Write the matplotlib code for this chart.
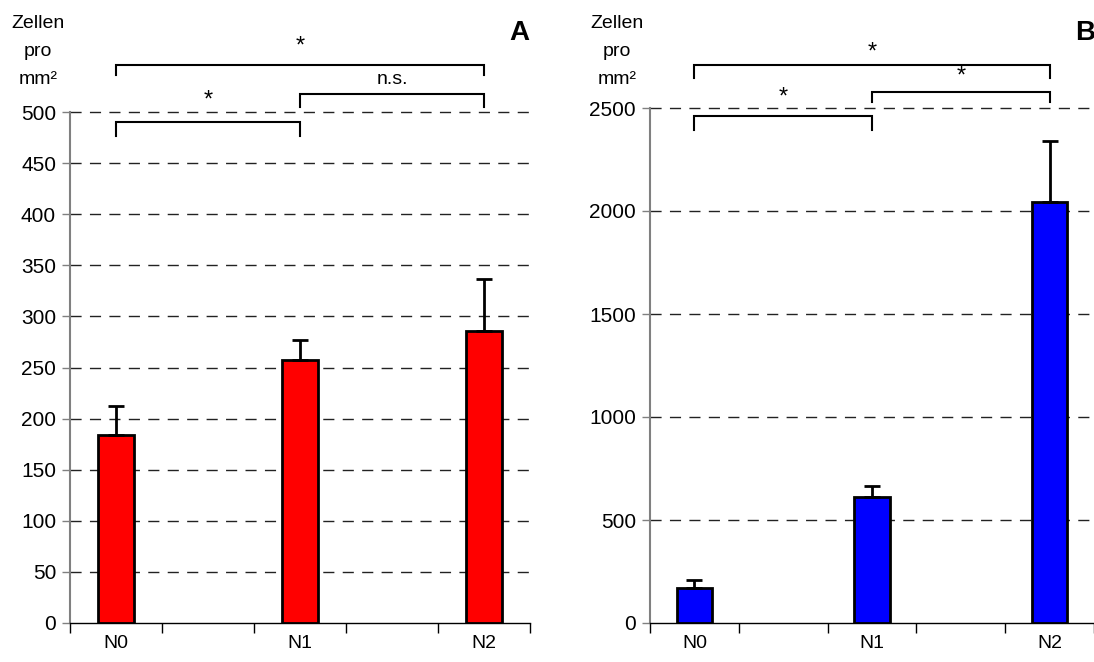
import matplotlib.pyplot as plt
import numpy as np

plt.rcParams['font.family'] = ['Liberation Sans', 'DejaVu Sans']

groups = ["N0", "N1", "N2"]
values_a = [184, 257, 286]
errors_a = [28, 20, 51]
values_b = [168, 613, 2045]
errors_b = [40, 52, 293]

W, H = 1094, 662
fig = plt.figure(figsize=(W / 100, H / 100), dpi=100)


def px(x0, y0, x1, y1):
    # pixel box -> figure fraction rect
    return [x0 / W, 1 - y1 / H, (x1 - x0) / W, (y1 - y0) / H]


def bracket(ax, x0, x1, y, drop, txt, ty, fs):
    ax.plot([x0, x0, x1, x1], [y - drop, y, y, y - drop], color='black',
            lw=1.5, clip_on=False, solid_joinstyle='miter')
    ax.text((x0 + x1) / 2, ty, txt, ha='center', va='center', fontsize=fs,
            clip_on=False)


def panel(ax, values, errors, color, ymax, step):
    xpos = np.array([0.5, 2.5, 4.5])
    ax.bar(xpos, values, 0.4, color=color, edgecolor='black', linewidth=2,
           zorder=3)
    ax.errorbar(xpos, values, yerr=[[0] * 3, errors], fmt='none',
                ecolor='black', elinewidth=2, capsize=5.5, capthick=2,
                zorder=4)
    ax.set_xlim(0, 5)
    ax.set_ylim(0, ymax)
    ax.set_yticks(np.arange(0, ymax + 1, step))
    ax.tick_params(axis='y', labelsize=15, length=6, color='#808080',
                   width=1, pad=4)
    ax.set_xticks(np.arange(0, 6))
    ax.set_xticklabels([])
    ax.tick_params(axis='x', which='major', length=7, color='black', width=1)
    ax.set_xticks(xpos, minor=True)
    ax.set_xticklabels(groups, minor=True)
    ax.tick_params(axis='x', which='minor', length=0, labelsize=14, pad=9)
    for y in np.arange(step, ymax + 1, step):
        ax.axhline(y, color='#222222', lw=1, dashes=(8, 6), zorder=1,
                   clip_on=False)
    for s in ['top', 'right']:
        ax.spines[s].set_visible(False)
    ax.spines['left'].set_color('#808080')
    ax.spines['left'].set_linewidth(1.5)
    ax.spines['bottom'].set_color('black')
    ax.spines['bottom'].set_linewidth(1)


# panel A
ax1 = fig.add_axes(px(70, 112, 530, 623))
panel(ax1, values_a, errors_a, '#ff0000', 500, 50)
bracket(ax1, 0.5, 2.5, 490, 13, '*', 511, 17)
bracket(ax1, 2.5, 4.5, 518, 13, 'n.s.', 532, 14)
bracket(ax1, 0.5, 4.5, 546, 10, '*', 564, 17)

# panel B
ax2 = fig.add_axes(px(650, 108, 1094, 623))
panel(ax2, values_b, errors_b, '#0000ff', 2500, 500)
bracket(ax2, 0.5, 2.5, 2461, 68, '*', 2552, 17)
bracket(ax2, 2.5, 4.5, 2578, 49, '*', 2652, 17)
bracket(ax2, 0.5, 4.5, 2709, 63, '*', 2768, 17)

for cx in [38, 617]:
    for txt, base in [("Zellen", 28), ("pro", 56), ("mm²", 84)]:
        fig.text(cx / W, 1 - base / H, txt, ha='center', va='baseline',
                 fontsize=14)

fig.text(519 / W, 1 - 40 / H, "A", ha='center', va='baseline', fontsize=20,
         fontweight='bold')
fig.text(1075 / W, 1 - 40 / H, "B", ha='left', va='baseline', fontsize=20,
         fontweight='bold')

fig.savefig("out.png", dpi=100)
